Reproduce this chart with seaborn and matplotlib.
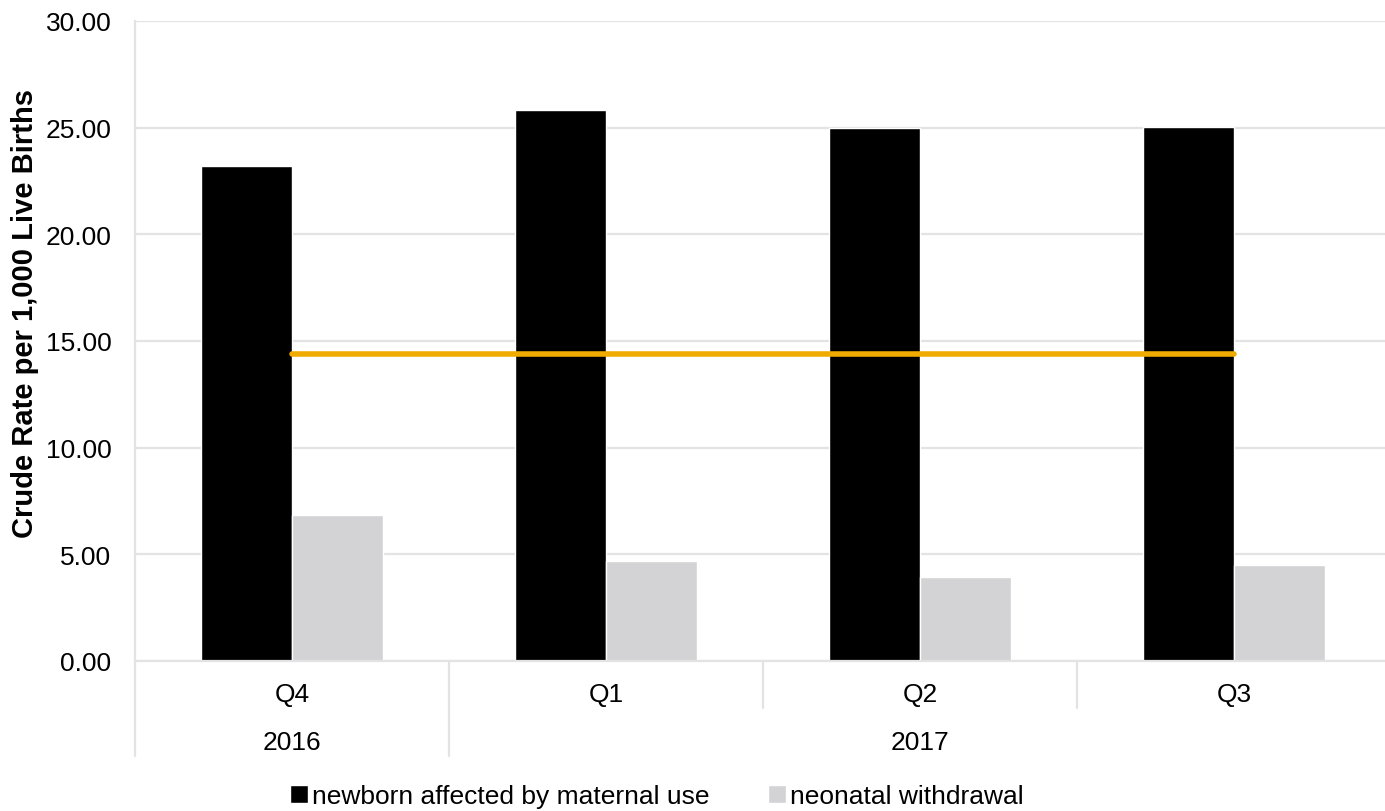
import matplotlib
matplotlib.use("Agg")
import matplotlib.pyplot as plt
import matplotlib.transforms as mtransforms
from matplotlib.patches import Patch
import pandas as pd
import seaborn as sns

quarters = ['Q4', 'Q1', 'Q2', 'Q3']
years = ['2016', '2017']
year_centers = [0, 2]
maternal_use = [23.18, 25.82, 24.98, 25.03]
withdrawal = [6.86, 4.69, 3.95, 4.48]
benchmark = [14.37, 14.37, 14.37, 14.37]
series_names = ['newborn affected by maternal use', 'neonatal withdrawal']

colors = ['#000000', '#D3D3D5']
orange = '#F0AB00'
grid_color = '#E3E3E3'

sns.set_style('white')
plt.rcParams['font.family'] = ['Liberation Sans', 'DejaVu Sans']
plt.rcParams['text.color'] = 'black'
plt.rcParams['axes.labelcolor'] = 'black'
plt.rcParams['xtick.color'] = 'black'
plt.rcParams['ytick.color'] = 'black'

df = pd.DataFrame({
    'quarter': quarters * 2,
    'series': [series_names[0]] * 4 + [series_names[1]] * 4,
    'rate': maternal_use + withdrawal,
})

fig = plt.figure(figsize=(13.85, 8.12), dpi=100)
ax = fig.add_axes([135 / 1385, 150 / 812, 1250 / 1385, 640 / 812])

sns.barplot(data=df, x='quarter', y='rate', hue='series', order=quarters,
            hue_order=series_names, palette=colors, width=0.58,
            edgecolor='white', linewidth=1, saturation=1, legend=False, ax=ax)

ax.plot(range(len(quarters)), benchmark, color=orange, lw=4, solid_capstyle='round', zorder=5)

ax.set_xlim(-0.5, 3.48)
ax.set_ylim(0, 30)
ax.set_yticks(range(0, 31, 5))
ax.set_yticklabels([f'{v:.2f}' for v in range(0, 31, 5)])
ax.yaxis.grid(True, color=grid_color, lw=1.6)
ax.set_axisbelow(True)

for s in ['top', 'right']:
    ax.spines[s].set_visible(False)
for s in ['left', 'bottom']:
    ax.spines[s].set_color(grid_color)
    ax.spines[s].set_linewidth(1.6)

ax.tick_params(axis='y', length=7, width=1.6, color=grid_color, labelcolor='black', pad=10, labelsize=19)
ax.tick_params(axis='x', length=0, pad=15, labelcolor='black', labelsize=19)
ax.set_xlabel('')
ax.set_ylabel('Crude Rate per 1,000 Live Births', fontsize=21, fontweight='bold')
ax.yaxis.set_label_coords(-0.077, 0.544)

# two-level category axis
trans = mtransforms.blended_transform_factory(ax.transData, ax.transAxes)
for x, y0 in [(-0.5, -0.148), (0.5, -0.148), (1.5, -0.074), (2.5, -0.074)]:
    ax.plot([x, x], [0, y0], transform=trans, color=grid_color, lw=1.6, clip_on=False)
for label, xc in zip(years, year_centers):
    ax.text(xc, -0.126, label, transform=trans, ha='center', va='center', fontsize=19)

handles = [Patch(facecolor=c, edgecolor='white') for c in colors]
fig.legend(handles, series_names, loc='center', bbox_to_anchor=(657 / 1385, 1 - 797 / 812),
           ncol=2, frameon=False, fontsize=19, handlelength=0.7, handleheight=0.7,
           handletextpad=0.15, columnspacing=2.2)

fig.savefig('out.png', dpi=100)
